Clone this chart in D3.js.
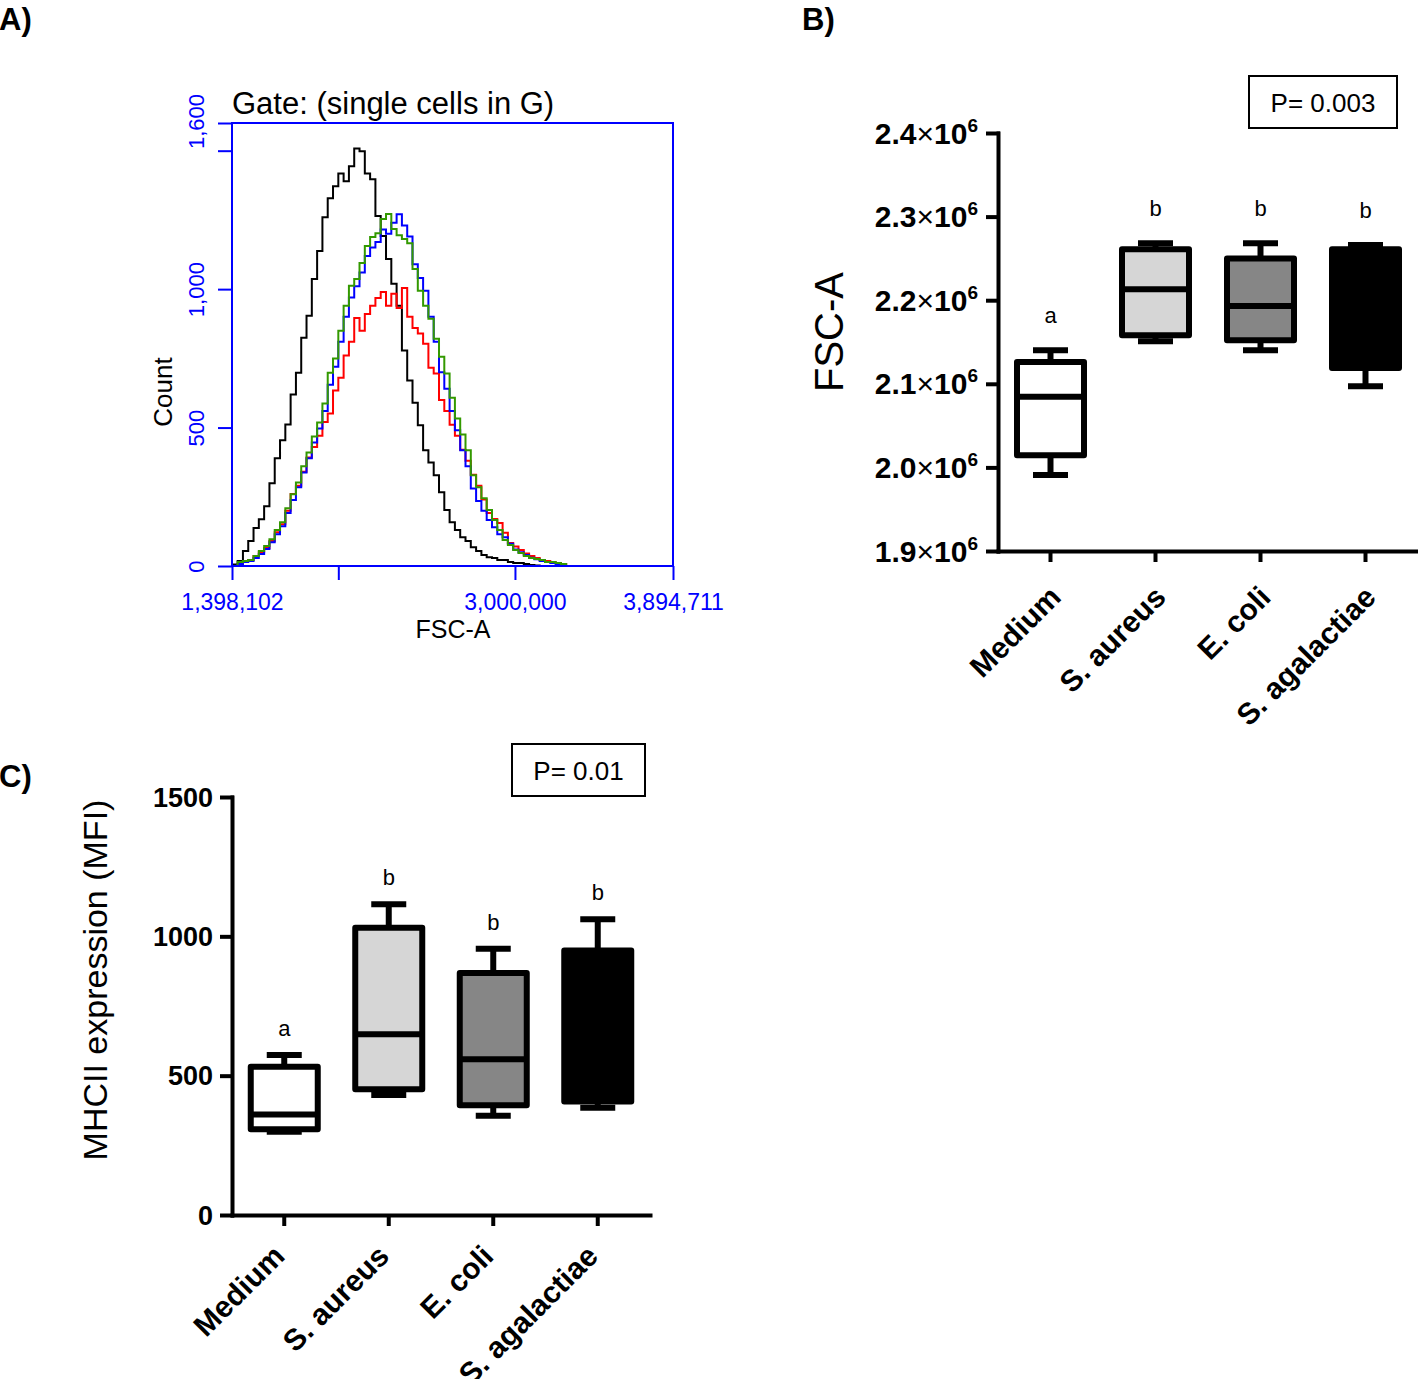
<!DOCTYPE html>
<html><head><meta charset="utf-8">
<script src="https://cdn.jsdelivr.net/npm/d3@7"></script>
<style>body{margin:0;background:#fff}</style>
</head><body>
<svg id="c" width="1418" height="1379" xmlns="http://www.w3.org/2000/svg"></svg>
<script>
// ---------- DATA ----------
// Panel A: histogram bins (FSC-A, thousands) and counts per overlay
const histFscK = [1400,1430,1460,1490,1520,1550,1580,1610,1640,1670,1700,1730,1760,1790,1820,1850,1880,1910,1940,1970,2000,2030,2060,2090,2120,2150,2180,2210,2240,2270,2300,2330,2360,2390,2420,2450,2480,2510,2540,2570,2600,2630,2660,2690,2720,2750,2780,2810,2840,2870,2900,2930,2960,2990,3020,3050,3080,3110,3140,3170,3200,3230,3260,3290];
const histBlack = [5,18,54,90,137,169,216,299,389,454,511,619,698,824,904,1037,1138,1260,1328,1372,1418,1390,1444,1508,1498,1418,1397,1264,1192,1109,1019,940,778,670,590,508,418,374,328,266,202,158,130,104,90,68,54,40,32,29,22,22,14,11,11,7,4,2,0,0,0,0,0,0];
const histRed = [0,7,18,22,36,50,65,90,122,151,200,260,290,340,392,430,470,520,551,634,680,760,810,896,850,910,940,968,990,940,983,932,1004,900,860,840,803,716,695,600,560,510,470,420,380,330,290,240,191,170,155,120,83,70,58,45,36,29,22,18,14,11,7,4];
const histBlue = [0,7,14,18,29,43,61,86,115,144,191,238,284,338,389,446,497,560,655,720,810,900,970,1010,1060,1120,1150,1170,1215,1200,1240,1270,1230,1190,1090,1040,994,900,810,700,640,560,490,418,360,280,235,200,166,140,115,104,80,60,50,40,30,24,18,14,11,7,4,4];
const histGreen = [0,14,18,22,36,54,72,97,130,158,209,259,302,360,410,468,518,587,698,749,850,940,1012,1037,1094,1156,1188,1202,1253,1271,1217,1195,1181,1166,1073,994,940,893,821,756,695,608,533,475,418,328,284,245,202,166,130,94,76,58,47,36,29,25,22,14,14,11,7,4];
const histXTicks = [1398102, 2000000, 3000000, 3894711];
const histXLabeled = [1398102, 3000000, 3894711];
const histYTicks = [0, 500, 1000, 1500, 1600];
const histYLabeled = [0, 500, 1000, 1600];

// Panels B and C: box plots
const categories = ["Medium", "S. aureus", "E. coli", "S. agalactiae"];
const boxFills = ["#ffffff", "#d6d6d6", "#868686", "#000000"];
const fscMin = [1.991e6, 2.151e6, 2.140e6, 2.097e6];
const fscQ1  = [2.0145e6, 2.158e6, 2.152e6, 2.119e6];
const fscMed = [2.0846e6, 2.213e6, 2.193e6, 2.190e6];
const fscQ3  = [2.126e6, 2.261e6, 2.250e6, 2.261e6];
const fscMax = [2.140e6, 2.268e6, 2.268e6, 2.266e6];
const fscLetters = ["a", "b", "b", "b"];
const fscTicks = [1.9e6, 2.0e6, 2.1e6, 2.2e6, 2.3e6, 2.4e6];
const fscP = "P= 0.003";

const mhcMin = [299, 431, 356, 385];
const mhcQ1  = [308, 451, 394, 407];
const mhcMed = [361, 649, 559, 700];
const mhcQ3  = [532, 1031, 868, 949];
const mhcMax = [574, 1115, 955, 1061];
const mhcLetters = ["a", "b", "b", "b"];
const mhcTicks = [0, 500, 1000, 1500];
const mhcP = "P= 0.01";

// ---------- DRAW ----------
const svg = d3.select("#c");
const F = "Arial, 'Liberation Sans', Helvetica, sans-serif";

// panel letters
[["A)", -1, 30], ["B)", 802, 30], ["C)", -1, 787]].forEach(([t, x, y]) => {
  svg.append("text").attr("x", x).attr("y", y).text(t)
    .attr("font-family", F).attr("font-weight", "bold").attr("font-size", 31).attr("fill", "#000");
});

// ===== Panel A =====
const BLUE = "#0000ff";
const xA = d3.scaleLinear().domain([1398102, 3894711]).range([232, 673]);
const yA = d3.scaleLinear().domain([0, 1600]).range([566, 123]);
const gA = svg.append("g");
gA.append("clipPath").attr("id", "clipA").append("rect")
  .attr("x", 232).attr("y", 123).attr("width", 441).attr("height", 443);

const lineA = d3.line()
  .x((d, i) => xA(histFscK[i] * 1000))
  .y(d => yA(d))
  .curve(d3.curveStepAfter);

[[histBlack, "#000000"], [histRed, "#ff0000"], [histBlue, "#0000ff"], [histGreen, "#339900"]].forEach(([vals, col]) => {
  gA.append("path").datum(vals).attr("d", lineA)
    .attr("fill", "none").attr("stroke", col).attr("stroke-width", 2)
    .attr("clip-path", "url(#clipA)");
});

gA.append("rect").attr("x", 232).attr("y", 123).attr("width", 441).attr("height", 443)
  .attr("fill", "none").attr("stroke", BLUE).attr("stroke-width", 2);

const axAx = gA.append("g").attr("transform", "translate(0,566)")
  .call(d3.axisBottom(xA).tickValues(histXTicks).tickSize(14).tickSizeOuter(0)
    .tickFormat(d => histXLabeled.includes(d) ? d3.format(",")(d) : ""));
axAx.select(".domain").remove();
axAx.selectAll("line").attr("stroke", BLUE).attr("stroke-width", 2);
axAx.selectAll("text").attr("y", 44).attr("dy", null).attr("fill", BLUE)
  .attr("font-family", F).attr("font-size", 23);

const axAy = gA.append("g").attr("transform", "translate(232,0)")
  .call(d3.axisLeft(yA).tickValues(histYTicks).tickSize(14).tickSizeOuter(0)
    .tickFormat(d => histYLabeled.includes(d) ? d3.format(",")(d) : ""));
axAy.select(".domain").remove();
axAy.selectAll("line").attr("stroke", BLUE).attr("stroke-width", 2);
axAy.selectAll("text").attr("x", 0).attr("y", 0).attr("dy", null)
  .attr("text-anchor", "middle").attr("transform", "translate(-28,0) rotate(-90)")
  .attr("fill", BLUE).attr("font-family", F).attr("font-size", 22);
axAy.selectAll(".tick").filter(d => d === 1600).select("text").attr("transform", "translate(-28,-2) rotate(-90)");

gA.append("text").attr("x", 232).attr("y", 114).text("Gate: (single cells in G)")
  .attr("font-family", F).attr("font-size", 31).attr("fill", "#000");
gA.append("text").attr("transform", "translate(172,392) rotate(-90)").attr("text-anchor", "middle")
  .text("Count").attr("font-family", F).attr("font-size", 26).attr("fill", "#000");
gA.append("text").attr("x", 453).attr("y", 638).attr("text-anchor", "middle")
  .text("FSC-A").attr("font-family", F).attr("font-size", 25).attr("fill", "#000");

// ===== Box plot helper =====
function boxPanel(opt) {
  const g = svg.append("g");
  const x = d3.scaleBand().domain(categories).range([opt.x0, opt.x1]);
  const y = d3.scaleLinear().domain(opt.domain).range([opt.yBottom, opt.yTop]);

  // y axis
  const ay = g.append("g").attr("transform", `translate(${opt.x0},0)`)
    .call(d3.axisLeft(y).tickValues(opt.ticks).tickSize(10).tickSizeOuter(0).tickFormat(""));
  ay.selectAll("path,line").attr("stroke", "#000").attr("stroke-width", 4).attr("stroke-linecap", "square");
  ay.selectAll(".tick").each(function(d) { opt.tickLabel(d3.select(this), d); });

  // x axis
  const ax = g.append("g").attr("transform", `translate(0,${opt.yBottom})`)
    .call(d3.axisBottom(x).tickSize(11).tickSizeOuter(0).tickFormat(""));
  ax.selectAll("path,line").attr("stroke", "#000").attr("stroke-width", 4);
  ax.select(".domain").attr("stroke-linecap", "square");
  ax.selectAll(".tick").append("text")
    .attr("text-anchor", "end")
    .attr("transform", `translate(${opt.labDx},${opt.labDy}) rotate(-45)`)
    .text(d => d)
    .attr("font-family", F).attr("font-weight", "bold").attr("font-size", 30).attr("fill", "#000");

  const bw = 67, cw = 35;
  categories.forEach((c, i) => {
    const cx = x(c) + x.bandwidth() / 2;
    const gb = g.append("g");
    gb.append("line").attr("x1", cx).attr("x2", cx).attr("y1", y(opt.max[i])).attr("y2", y(opt.q3[i]))
      .attr("stroke", "#000").attr("stroke-width", 6);
    gb.append("line").attr("x1", cx).attr("x2", cx).attr("y1", y(opt.q1[i])).attr("y2", y(opt.min[i]))
      .attr("stroke", "#000").attr("stroke-width", 6);
    [opt.max[i], opt.min[i]].forEach(v => {
      gb.append("line").attr("x1", cx - cw / 2).attr("x2", cx + cw / 2).attr("y1", y(v)).attr("y2", y(v))
        .attr("stroke", "#000").attr("stroke-width", 6);
    });
    gb.append("rect").attr("x", cx - bw / 2).attr("width", bw)
      .attr("y", y(opt.q3[i])).attr("height", y(opt.q1[i]) - y(opt.q3[i]))
      .attr("fill", boxFills[i]).attr("stroke", "#000").attr("stroke-width", 6)
      .attr("stroke-linejoin", "round");
    gb.append("line").attr("x1", cx - bw / 2).attr("x2", cx + bw / 2)
      .attr("y1", y(opt.med[i])).attr("y2", y(opt.med[i]))
      .attr("stroke", "#000").attr("stroke-width", 6);
    gb.append("text").attr("x", cx).attr("y", y(opt.max[i]) - opt.letterGap)
      .attr("text-anchor", "middle").text(opt.letters[i])
      .attr("font-family", F).attr("font-size", 22).attr("fill", "#000");
  });

  // P value box
  g.append("rect").attr("x", opt.pBox[0]).attr("y", opt.pBox[1]).attr("width", opt.pBox[2]).attr("height", opt.pBox[3])
    .attr("fill", "#fff").attr("stroke", "#000").attr("stroke-width", 2);
  g.append("text").attr("x", opt.pBox[0] + opt.pBox[2] / 2).attr("y", opt.pBox[1] + opt.pBox[3] / 2 + 10)
    .attr("text-anchor", "middle").text(opt.pText)
    .attr("font-family", F).attr("font-size", 26).attr("fill", "#000");

  // y title
  g.append("text").attr("transform", `translate(${opt.titleX},${opt.titleY}) rotate(-90)`)
    .attr("text-anchor", "middle").text(opt.title)
    .attr("font-family", F).attr("font-size", opt.titleSize).attr("fill", "#000");
}

// ===== Panel B =====
boxPanel({
  x0: 998, x1: 1418, yBottom: 551, yTop: 133, domain: [1.9e6, 2.4e6], ticks: fscTicks,
  min: fscMin, q1: fscQ1, med: fscMed, q3: fscQ3, max: fscMax, letters: fscLetters, letterGap: 27,
  labDx: 12, labDy: 48,
  pBox: [1249, 76, 148, 52], pText: fscP,
  title: "FSC-A", titleX: 843, titleY: 332, titleSize: 40,
  tickLabel: (sel, d) => {
    const t = sel.append("text").attr("x", -20).attr("y", 10).attr("text-anchor", "end")
      .attr("font-family", F).attr("font-size", 30).attr("font-weight", "bold").attr("fill", "#000");
    t.append("tspan").text((d / 1e6).toFixed(1));
    t.append("tspan").text("\u00d7").attr("font-weight", "normal");
    t.append("tspan").text("10");
    t.append("tspan").text("6").attr("font-size", 19).attr("dy", -12);
  }
});

// ===== Panel C =====
boxPanel({
  x0: 232, x1: 650, yBottom: 1215, yTop: 797, domain: [0, 1500], ticks: mhcTicks,
  min: mhcMin, q1: mhcQ1, med: mhcMed, q3: mhcQ3, max: mhcMax, letters: mhcLetters, letterGap: 19,
  labDx: 2, labDy: 43,
  pBox: [512, 744, 133, 52], pText: mhcP,
  title: "MHCII expression (MFI)", titleX: 107, titleY: 980, titleSize: 34,
  tickLabel: (sel, d) => {
    sel.append("text").attr("x", -19).attr("y", 9).attr("text-anchor", "end").text(d)
      .attr("font-family", F).attr("font-size", 27).attr("font-weight", "bold").attr("fill", "#000");
  }
});
</script>
</body></html>
